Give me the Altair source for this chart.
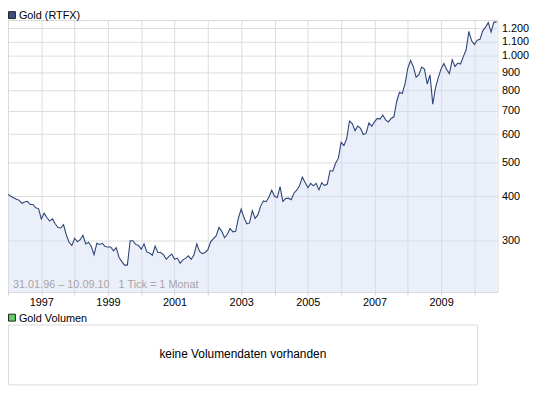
import altair as alt
import pandas as pd

# Monthly gold closes (USD/oz), Jan 1996 .. Sep 2010
p1996 = [405, 400, 396, 392, 390, 382, 385, 387, 379, 379, 371, 369]
p1997 = [345, 358, 348, 340, 345, 334, 326, 325, 332, 311, 296, 290]
p1998 = [304, 297, 301, 310, 293, 296, 288, 273, 294, 292, 294, 288]
p1999 = [287, 287, 280, 286, 268, 261, 255, 255, 299, 299, 292, 290]
p2000 = [283, 293, 278, 276, 272, 289, 277, 277, 273, 265, 270, 274]
p2001 = [265, 267, 258, 264, 267, 271, 265, 273, 293, 279, 275, 277]
p2002 = [282, 297, 303, 309, 326, 318, 305, 312, 324, 317, 318, 347]
p2003 = [368, 348, 334, 336, 364, 346, 354, 375, 388, 386, 398, 416]
p2004 = [400, 397, 426, 387, 394, 395, 391, 408, 416, 428, 453, 438]
p2005 = [423, 435, 428, 435, 417, 437, 429, 433, 473, 471, 496, 513]
p2006 = [569, 557, 583, 654, 643, 614, 633, 623, 599, 604, 646, 632]
p2007 = [650, 665, 662, 680, 659, 650, 665, 672, 743, 789, 783, 834]
p2008 = [923, 971, 933, 871, 885, 930, 918, 833, 884, 730, 814, 870]
p2009 = [919, 952, 916, 891, 975, 934, 955, 949, 996, 1040, 1175, 1104]
p2010 = [1078, 1109, 1115, 1179, 1208, 1244, 1169, 1246, 1250]

prices = (p1996 + p1997 + p1998 + p1999 + p2000 + p2001 + p2002 + p2003
          + p2004 + p2005 + p2006 + p2007 + p2008 + p2009 + p2010)

y_ticks = [300, 400, 500, 600, 700, 800, 900, 1000, 1100, 1200]
y_domain = [214, 1265]
grid_years = list(range(1996, 2011))
series_name = "Gold (RTFX)"
volume_name = "Gold Volumen"
volume_note = "keine Volumendaten vorhanden"
range_note = "31.01.96 \u2013 10.09.10\u00a0\u00a0\u00a01 Tick = 1 Monat"

W, H = 495, 275
FONT = "Liberation Sans"
GRID = "#dcdcdc"

# position of each monthly close as a decimal year (month start)
t = [1996 + i / 12 for i in range(len(prices))]
df = pd.DataFrame({"t": t, "price": prices, "floor": [y_domain[0]] * len(prices)})

x_enc = alt.X(
    "t:Q",
    scale=alt.Scale(domain=[1996, 2010 + 8 / 12 + 9 / 365], nice=False, zero=False),
    axis=alt.Axis(
        title=None,
        values=grid_years,
        labelExpr="datum.value % 2 == 1 ? '' + datum.value : ''",
        grid=True, gridColor=GRID, domain=False,
        tickSize=3, tickColor="#cccccc", labelPadding=2,
        labelFont=FONT, labelFontSize=11, labelColor="#000000",
        labelFlush=False, labelOverlap=False,
    ),
)
y_enc = alt.Y(
    "price:Q",
    scale=alt.Scale(type="log", domain=y_domain, nice=False),
    axis=alt.Axis(
        title=None, orient="right", values=y_ticks,
        labelExpr="replace(format(datum.value, ','), ',', '.')",
        grid=True, gridColor=GRID, domain=False, ticks=False,
        labelPadding=4, labelFont=FONT, labelFontSize=11, labelColor="#000000",
        labelOverlap=False,
    ),
)

base = alt.Chart(df).encode(x=x_enc, y=y_enc)
area = base.mark_area(color="#d3dbf2", opacity=0.45).encode(y2="floor:Q")
line = base.mark_line(color="#2f4577", strokeWidth=1.1)

one = pd.DataFrame({"a": [0]})

def box(x0, x1, y0, y1, fill, stroke):
    return alt.Chart(one).mark_rect(fill=fill, stroke=stroke, strokeWidth=1).encode(
        x=alt.value(x0), x2=alt.value(x1), y=alt.value(y0), y2=alt.value(y1)
    )

def label(text, xp, yp, size=11, color="#000000", align="left", baseline="alphabetic"):
    d = pd.DataFrame({"t": [text]})
    return alt.Chart(d).mark_text(
        font=FONT, fontSize=size, color=color, align=align, baseline=baseline
    ).encode(x=alt.value(xp), y=alt.value(yp), text="t:N")

legend1 = box(0.5, 7.5, -8.5, -1.5, "#3b5082", "#222222")
legend1_t = label(series_name, 11, -1)
note = label(range_note, 5, 271, color="#a6a6a6")
legend2 = box(0.5, 7.5, 297.5, 304.5, "#66cc66", "#222222")
legend2_t = label(volume_name, 11, 305)
vol_box = box(0.5, 475, 308.5, 369, "#ffffff", GRID)
vol_t = label(volume_note, 237.5, 338, size=12, align="center", baseline="middle")

chart = alt.layer(
    area, line, note, legend1, legend1_t, legend2, legend2_t, vol_box, vol_t
).properties(
    width=W, height=H,
    autosize=alt.AutoSizeParams(type="none"),
    padding={"left": 0, "top": 10, "right": 40, "bottom": 98},
    background="#ffffff",
).configure_view(stroke="#d9d9d9", strokeWidth=1)

chart.save("out.html", embed_options={"renderer": "svg", "actions": False})
